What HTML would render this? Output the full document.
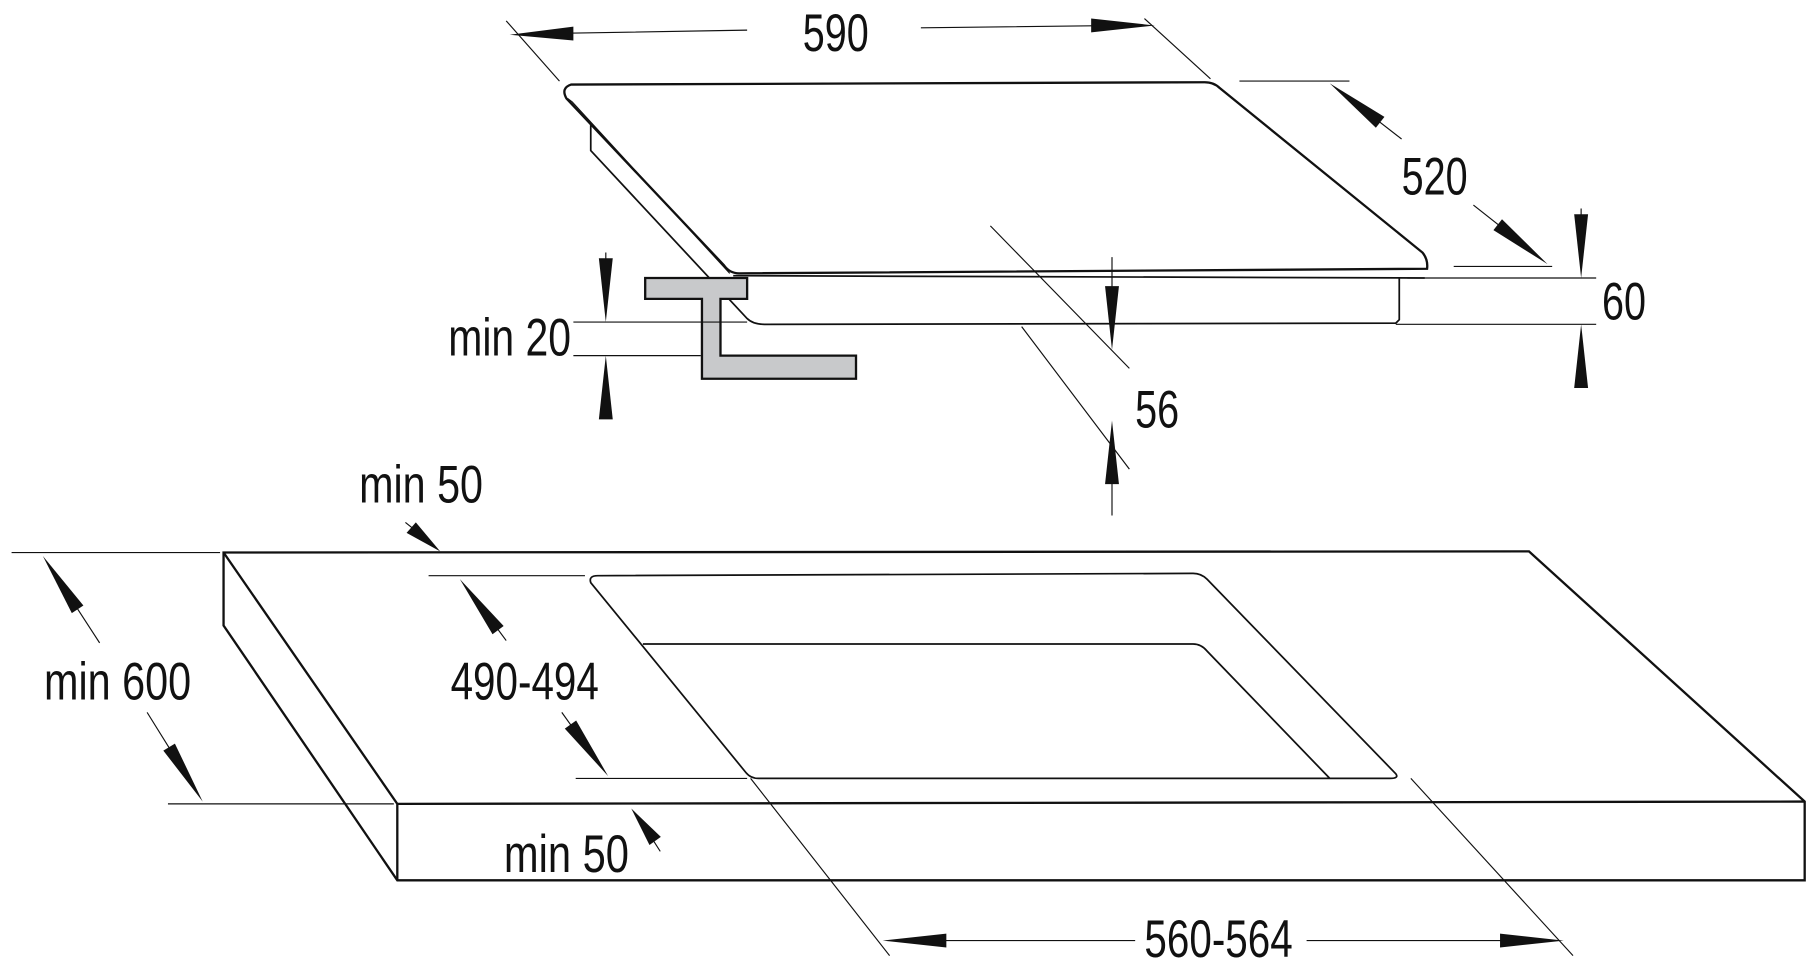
<!DOCTYPE html>
<html><head><meta charset="utf-8"><style>html,body{margin:0;padding:0;background:#fff}svg{display:block}</style></head>
<body>
<svg width="1807" height="973" viewBox="0 0 1560 840" xmlns="http://www.w3.org/2000/svg">
<g fill="none" stroke="#111" stroke-width="1">
<path d="M493,73 L1040,71 Q1048,71 1053,76 L1228,218 Q1233,224 1232,232 L638,236 Q630,236 625,229 L489,85 Q484,76 493,73 Z" stroke-width="2"/>
<path d="M490,85 L494,88 L630,236"/>
<path d="M510,108 L510,130 L645,275 Q650,280 660,280 L1205,279 L1208,276 L1208,240" stroke-width="1.5"/>
<path d="M633,238 L1230,240" stroke-width="1.5"/>
<path d="M557,240 L645,240 L645,258 L622,258 L622,307 L739,307 L739,327 L606,327 L606,258 L557,258 Z" fill="#c8c9cb" stroke-width="2"/>
<path d="M437,18 L483,70 M988,16 L1045,68"/>
<path d="M645,26 L470,29 M795,24 L970,22"/>
<path d="M1070,70 L1165,70 M1255,230 L1340,230"/>
<path d="M1210,120 L1170,89 M1272,177 L1310,207"/>
<path d="M1215,240 L1378,240 M1205,280 L1378,280"/>
<path d="M1365,180 L1365,210 M1365,332 L1365,310"/>
<path d="M855,195 L975,318 M882,282 L975,405"/>
<path d="M960,222 L960,270 M960,445 L960,390"/>
<path d="M495,278 L645,278 M495,307 L605,307"/>
<path d="M523,218 L523,250 M523,357 L523,335"/>
<path d="M193,477 L1320,476 L1558,692 L1558,760 L343,760 L193,540 Z" stroke-width="2"/>
<path d="M193,477 L343,694 L1558,692 M343,694 L343,760" stroke-width="2"/>
<path d="M516,497 L1030,495 Q1037,495 1042,500 L1205,668 Q1208,672 1200,672 L655,672 Q648,672 644,667 L510,503 Q508,497 516,497 Z" stroke-width="1.5"/>
<path d="M555,556 L1030,556 Q1037,556 1042,562 L1148,672" stroke-width="1.5"/>
<path d="M370,497 L505,497 M497,672 L645,672"/>
<path d="M437,553 L420,530 M485,615 L500,636"/>
<path d="M10,477 L190,477 M145,694 L340,694"/>
<path d="M86,555 L62,518 M127,615 L150,652"/>
<path d="M350,451 L360,459 M570,735 L563,724"/>
<path d="M648,672 L768,825 M1218,672 L1358,825"/>
<path d="M980,812 L800,812 M1128,812 L1310,812"/>
</g>
<g fill="#111">
<polygon points="440,30 495,23 495,35"/>
<polygon points="997,22 942,16 942,28"/>
<polygon points="1148,72 1195.2,100.9 1187.8,110.3"/>
<polygon points="1336,228 1296.7,189.3 1289.3,198.7"/>
<polygon points="1365,240 1359,185 1371,185"/>
<polygon points="1365,280 1359,335 1371,335"/>
<polygon points="960,302 954,247 966,247"/>
<polygon points="960,363 954,418 966,418"/>
<polygon points="523,278 517,223 529,223"/>
<polygon points="523,307 517,362 529,362"/>
<polygon points="397,500 434.8,540.4 425.2,547.6"/>
<polygon points="525,670 497.4,622 487.6,629"/>
<polygon points="37,480 72,522.7 62,529.3"/>
<polygon points="175,692 151,642 141,648"/>
<polygon points="380,476 359,451 351,460"/>
<polygon points="545,698 570.5,722.5 560.7,729.5"/>
<polygon points="762,812 817,806 817,818"/>
<polygon points="1350,812 1295,806 1295,818"/>
</g>
<g font-family="Liberation Sans, sans-serif" font-size="46" fill="#111">
<text x="693" y="44" textLength="57" lengthAdjust="spacingAndGlyphs">590</text>
<text x="1210" y="168" textLength="57" lengthAdjust="spacingAndGlyphs">520</text>
<text x="1383" y="276" textLength="38" lengthAdjust="spacingAndGlyphs">60</text>
<text x="980" y="369" textLength="38" lengthAdjust="spacingAndGlyphs">56</text>
<text x="387" y="307" textLength="106" lengthAdjust="spacingAndGlyphs">min 20</text>
<text x="310" y="434" textLength="107" lengthAdjust="spacingAndGlyphs">min 50</text>
<text x="38" y="604" textLength="127" lengthAdjust="spacingAndGlyphs">min 600</text>
<text x="389" y="604" textLength="128" lengthAdjust="spacingAndGlyphs">490-494</text>
<text x="435" y="753" textLength="108" lengthAdjust="spacingAndGlyphs">min 50</text>
<text x="988" y="826" textLength="128" lengthAdjust="spacingAndGlyphs">560-564</text>
</g>
</svg>
</body></html>
